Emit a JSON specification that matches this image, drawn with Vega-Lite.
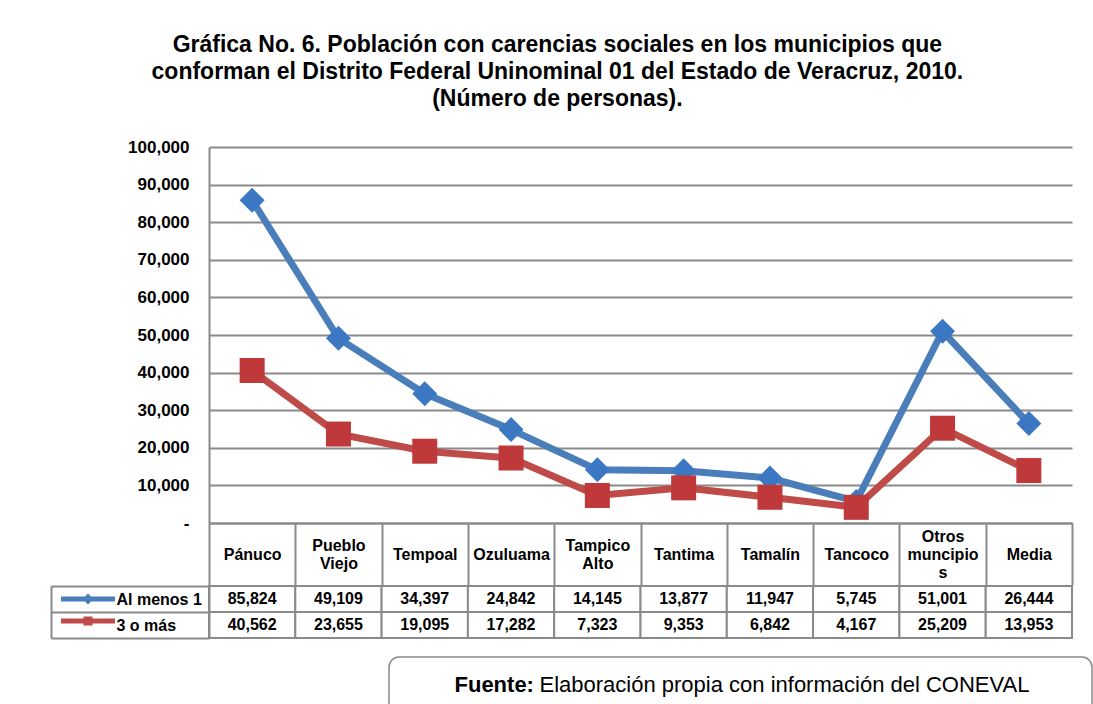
{
  "$schema": "https://vega.github.io/schema/vega-lite/v6.json",
  "background": "white",
  "padding": {"left": 50, "top": 34, "right": 0, "bottom": 0},
  "title": {
    "text": ["Gráfica No. 6. Población con carencias sociales en los municipios que", "conforman el Distrito Federal Uninominal 01 del Estado de Veracruz, 2010.", "(Número de personas)."],
    "fontSize": 23, "fontWeight": "bold", "font": "Liberation Sans", "lineHeight": 27, "color": "#000000",
    "anchor": "middle", "dx": -14, "offset": 27
  },
  "config": {"font": "Liberation Sans", "view": {"stroke": null}},
  "datasets": {
    "d": [
      {"municipio": "Pánuco", "serie": "Al menos 1", "valor": 85824},
      {"municipio": "Pueblo Viejo", "serie": "Al menos 1", "valor": 49109},
      {"municipio": "Tempoal", "serie": "Al menos 1", "valor": 34397},
      {"municipio": "Ozuluama", "serie": "Al menos 1", "valor": 24842},
      {"municipio": "Tampico Alto", "serie": "Al menos 1", "valor": 14145},
      {"municipio": "Tantima", "serie": "Al menos 1", "valor": 13877},
      {"municipio": "Tamalín", "serie": "Al menos 1", "valor": 11947},
      {"municipio": "Tancoco", "serie": "Al menos 1", "valor": 5745},
      {"municipio": "Otros muncipios", "serie": "Al menos 1", "valor": 51001},
      {"municipio": "Media", "serie": "Al menos 1", "valor": 26444},
      {"municipio": "Pánuco", "serie": "3 o más", "valor": 40562},
      {"municipio": "Pueblo Viejo", "serie": "3 o más", "valor": 23655},
      {"municipio": "Tempoal", "serie": "3 o más", "valor": 19095},
      {"municipio": "Ozuluama", "serie": "3 o más", "valor": 17282},
      {"municipio": "Tampico Alto", "serie": "3 o más", "valor": 7323},
      {"municipio": "Tantima", "serie": "3 o más", "valor": 9353},
      {"municipio": "Tamalín", "serie": "3 o más", "valor": 6842},
      {"municipio": "Tancoco", "serie": "3 o más", "valor": 4167},
      {"municipio": "Otros muncipios", "serie": "3 o más", "valor": 25209},
      {"municipio": "Media", "serie": "3 o más", "valor": 13953}
    ]
  },
  "spacing": 17,
  "vconcat": [
    {
      "spacing": -8,
      "resolve": {"scale": {"fill": "independent", "color": "independent", "shape": "independent"}, "legend": {"fill": "independent", "color": "independent", "shape": "independent"}},
      "vconcat": [
        {
          "width": 863,
          "height": 376,
          "data": {"name": "d"},
          "encoding": {
            "x": {
              "field": "municipio", "type": "nominal",
              "sort": ["Pánuco", "Pueblo Viejo", "Tempoal", "Ozuluama", "Tampico Alto", "Tantima", "Tamalín", "Tancoco", "Otros muncipios", "Media"],
              "scale": {"paddingInner": 0, "paddingOuter": 0},
              "axis": {
                "title": null, "labelAngle": 0, "labelFontSize": 16, "labelFontWeight": "bold", "labelColor": "#000000",
                "labelBaseline": "middle", "labelLineHeight": 18, "labelOverlap": false, "labelFlush": false,
                "labelPadding": {"expr": "datum.value == 'Otros muncipios' ? -49 : (isString(datum.value) && indexof(datum.value, ' ') > 0) ? -40 : -31"},
                "labelExpr": "!isString(datum.value) ? '' : datum.value == 'Otros muncipios' ? ['Otros', 'muncipio', 's'] : split(datum.value, ' ')",
                "ticks": true, "tickBand": "extent", "tickSize": 62, "tickColor": "#8a8a8a", "tickWidth": 2,
                "domain": true, "domainColor": "#8a8a8a", "domainWidth": 2, "grid": false
              }
            },
            "y": {
              "field": "valor", "type": "quantitative",
              "scale": {"domain": [0, 100000], "nice": false},
              "axis": {
                "title": null, "tickCount": 10, "labelExpr": "datum.value == 0 ? '-' : format(datum.value, ',')",
                "labelFontSize": 17, "labelFontWeight": "bold", "labelColor": "#000000", "labelPadding": 20,
                "ticks": false, "domain": true, "domainColor": "#8a8a8a", "domainWidth": 2,
                "grid": true, "gridColor": "#8a8a8a", "gridWidth": 2, "minExtent": 158
              }
            }
          },
          "layer": [
            {
              "mark": {"type": "line", "strokeWidth": 7},
              "encoding": {
                "color": {"field": "serie", "type": "nominal", "scale": {"domain": ["Al menos 1", "3 o más"], "range": ["#4a7ebb", "#be4b48"]}, "legend": null}
              }
            },
            {
              "mark": {"type": "point", "filled": true, "opacity": 1, "size": 625},
              "encoding": {
                "fill": {"field": "serie", "type": "nominal", "scale": {"domain": ["Al menos 1", "3 o más"], "range": ["#3b77c3", "#c0393a"]}, "legend": null},
                "shape": {"field": "serie", "type": "nominal", "scale": {"domain": ["Al menos 1", "3 o más"], "range": ["diamond", "square"]}, "legend": null}
              }
            }
          ]
        },
        {
          "width": 863,
          "height": 52,
          "data": {"name": "d"},
          "encoding": {
            "x": {
              "field": "municipio", "type": "nominal",
              "sort": ["Pánuco", "Pueblo Viejo", "Tempoal", "Ozuluama", "Tampico Alto", "Tantima", "Tamalín", "Tancoco", "Otros muncipios", "Media"],
              "scale": {"paddingInner": 0, "paddingOuter": 0},
              "axis": null
            }
          },
          "layer": [
            {
              "mark": {"type": "rect", "fill": "#ffffff", "stroke": "#8a8a8a", "strokeWidth": 2},
              "encoding": {
                "y": {
                  "field": "serie", "type": "nominal", "sort": ["Al menos 1", "3 o más"],
                  "scale": {"paddingInner": 0, "paddingOuter": 0},
                  "axis": {
                    "orient": "left", "title": null, "domain": true, "domainColor": "#8a8a8a", "domainWidth": 2,
                    "ticks": true, "tickBand": "extent", "tickSize": 158, "tickColor": "#8a8a8a", "tickWidth": 2,
                    "labelAlign": "left", "labelPadding": -65, "labelFontSize": 16, "labelFontWeight": "bold",
                    "labelColor": "#000000", "labelBaseline": "middle", "grid": false
                  }
                }
              }
            },
            {
              "mark": {"type": "text", "fontSize": 16, "fontWeight": "bold", "color": "#000000"},
              "encoding": {
                "y": {
                  "field": "serie", "type": "nominal", "sort": ["Al menos 1", "3 o más"],
                  "axis": {"orient": "left", "offset": 158, "title": null, "labels": false, "ticks": false, "domain": true, "domainColor": "#8a8a8a", "domainWidth": 2, "grid": false}
                },
                "text": {"field": "valor", "type": "quantitative", "format": ","}
              }
            },
            {
              "mark": {"type": "point", "filled": true, "opacity": 0, "size": 400},
              "encoding": {
                "y": {"field": "serie", "type": "nominal", "sort": ["Al menos 1", "3 o más"], "axis": null},
                "fill": {
                  "field": "serie", "type": "nominal",
                  "scale": {"domain": ["Al menos 1", "3 o más"], "range": ["#4a7ebb", "#be4b48"]},
                  "legend": {
                    "orient": "none", "legendX": -131, "legendY": 3, "title": null, "direction": "vertical",
                    "symbolSize": 400, "labelExpr": "''", "rowPadding": 6, "padding": 0, "offset": 0,
                    "symbolStrokeWidth": 0, "symbolOpacity": 1
                  }
                },
                "shape": {
                  "field": "serie", "type": "nominal",
                  "scale": {"domain": ["Al menos 1", "3 o más"], "range": ["M-2.7,-0.25H2.7V0.25H-2.7Z M0,-0.55L0.55,0L0,0.55L-0.55,0Z", "M-2.7,-0.25H2.7V0.25H-2.7Z M-0.45,-0.45H0.45V0.45H-0.45Z"]},
                  "legend": {
                    "orient": "none", "legendX": -131, "legendY": 3, "title": null, "direction": "vertical",
                    "symbolSize": 400, "labelExpr": "''", "rowPadding": 6, "padding": 0, "offset": 0,
                    "symbolStrokeWidth": 0, "symbolOpacity": 1
                  }
                }
              }
            }
          ],
          "resolve": {"axis": {"y": "independent"}}
        }
      ]
    },
    {
      "spacing": 0,
      "hconcat": [
        {
          "width": 179,
          "height": 56,
          "data": {"values": []},
          "mark": "point",
          "encoding": {}
        },
        {
          "width": 703,
          "height": 56,
          "view": {"stroke": "#8a8a8a", "strokeWidth": 1.5, "cornerRadius": 10, "fill": "white"},
          "data": {"values": [{"fuente": "Fuente:", "texto": "Elaboración propia con información del CONEVAL"}]},
          "layer": [
            {
              "mark": {"type": "text", "fontSize": 22, "fontWeight": "bold", "align": "left", "dx": -286, "color": "#000000"},
              "encoding": {"text": {"field": "fuente", "type": "nominal"}}
            },
            {
              "mark": {"type": "text", "fontSize": 22, "align": "left", "dx": -201, "color": "#000000"},
              "encoding": {"text": {"field": "texto", "type": "nominal"}}
            }
          ]
        }
      ]
    }
  ]
}
